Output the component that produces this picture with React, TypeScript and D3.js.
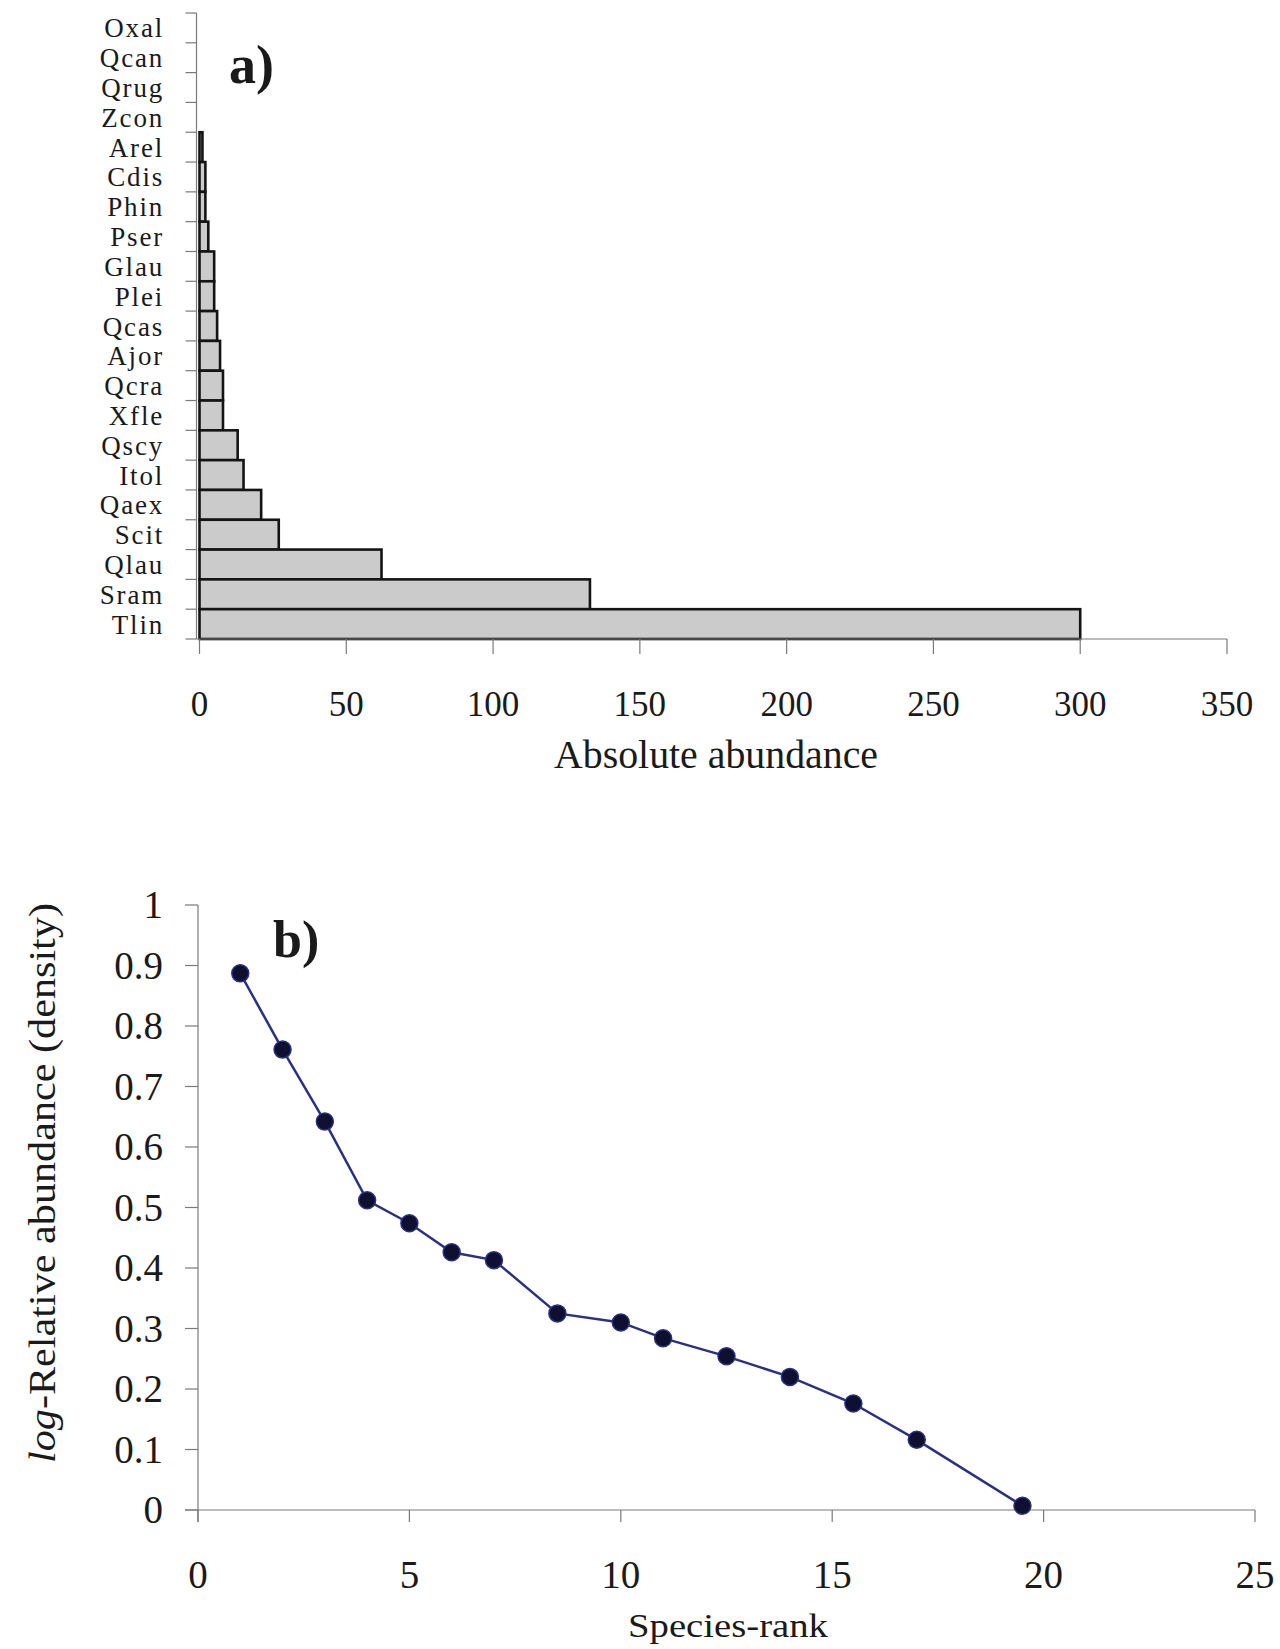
import React from "react";
import * as d3 from "d3";

// Panel a) species and their absolute abundance (top to bottom)
const species = [
  "Oxal", "Qcan", "Qrug", "Zcon", "Arel", "Cdis", "Phin", "Pser", "Glau", "Plei",
  "Qcas", "Ajor", "Qcra", "Xfle", "Qscy", "Itol", "Qaex", "Scit", "Qlau", "Sram", "Tlin",
];
const abundance = [0, 0, 0, 0, 1, 2, 2, 3, 5, 5, 6, 7, 8, 8, 13, 15, 21, 27, 62, 133, 300];
const abundanceTicks = [0, 50, 100, 150, 200, 250, 300, 350];

// Panel b) rank / abundance curve
const ranks = [1, 2, 3, 4, 5, 6, 7, 8.5, 10, 11, 12.5, 14, 15.5, 17, 19.5];
const logRelAbundance = [
  0.887, 0.761, 0.642, 0.512, 0.474, 0.426, 0.413, 0.325, 0.31, 0.284, 0.254, 0.22, 0.176, 0.116, 0.007,
];
const rankTicks = [0, 5, 10, 15, 20, 25];
const densityTicks = [0, 0.1, 0.2, 0.3, 0.4, 0.5, 0.6, 0.7, 0.8, 0.9, 1];

const FONT = "'Liberation Serif', 'Times New Roman', serif";
const AXIS = "#7a7a7a";
const INK = "#1a1a1a";

function BarPanel() {
  const x = d3.scaleLinear().domain([0, 350]).range([199.5, 1227]);
  const y = d3.scaleBand<string>().domain(species).range([13, 639]).padding(0);
  const base = 639;
  return (
    <g>
      {/* bars */}
      {species.map((s, i) =>
        abundance[i] > 0 ? (
          <rect
            key={s}
            x={x(0)}
            y={y(s)!}
            width={x(abundance[i]) - x(0)}
            height={y.bandwidth()}
            fill="#cbcbcb"
            stroke="#141414"
            strokeWidth={2.6}
          />
        ) : null
      )}
      {/* y axis */}
      <line x1={x(0) - 3} x2={x(0) - 3} y1={13} y2={base} stroke={AXIS} strokeWidth={1.2} />
      {[...species.map((s) => y(s)!), base].map((v, i) => (
        <line key={i} x1={x(0) - 14} x2={x(0) - 3} y1={v} y2={v} stroke={AXIS} strokeWidth={1.2} />
      ))}
      {species.map((s) => (
        <text
          key={s}
          x={164}
          y={y(s)! + y.bandwidth() / 2 + 9.5}
          textAnchor="end"
          fontFamily={FONT}
          fontSize={27}
          letterSpacing={1.8}
          fill={INK}
        >
          {s}
        </text>
      ))}
      {/* x axis */}
      <line x1={x(0) - 3} x2={x(350)} y1={base} y2={base} stroke={AXIS} strokeWidth={1.2} />
      {abundanceTicks.map((t) => (
        <g key={t}>
          <line x1={x(t)} x2={x(t)} y1={base} y2={base + 15} stroke={AXIS} strokeWidth={1.2} />
          <text x={x(t)} y={716} textAnchor="middle" fontFamily={FONT} fontSize={35} fill={INK}>
            {t}
          </text>
        </g>
      ))}
      <text
        x={716}
        y={768}
        textAnchor="middle"
        fontFamily={FONT}
        fontSize={40}
        textLength={324}
        lengthAdjust="spacingAndGlyphs"
        fill={INK}
      >
        Absolute abundance
      </text>
      <text x={229} y={83} fontFamily={FONT} fontSize={54} fontWeight="bold" fill={INK}>
        a)
      </text>
    </g>
  );
}

function RankPanel() {
  const x = d3.scaleLinear().domain([0, 25]).range([198, 1255]);
  const y = d3.scaleLinear().domain([0, 1]).range([1510, 905]);
  const line = d3
    .line<number>()
    .x((_, i) => x(ranks[i]))
    .y((d) => y(d));
  return (
    <g>
      {/* y axis */}
      <line x1={x(0)} x2={x(0)} y1={y(1)} y2={y(0) + 12} stroke={AXIS} strokeWidth={1.2} />
      {densityTicks.map((t) => (
        <g key={t}>
          <line x1={x(0) - 13} x2={x(0)} y1={y(t)} y2={y(t)} stroke={AXIS} strokeWidth={1.2} />
          <text x={163} y={y(t) + 13} textAnchor="end" fontFamily={FONT} fontSize={39} fill={INK}>
            {t}
          </text>
        </g>
      ))}
      {/* x axis */}
      <line x1={x(0) - 13} x2={x(25)} y1={y(0)} y2={y(0)} stroke={AXIS} strokeWidth={1.2} />
      {rankTicks.map((t) => (
        <g key={t}>
          <line x1={x(t)} x2={x(t)} y1={y(0)} y2={y(0) + 12} stroke={AXIS} strokeWidth={1.2} />
          <text x={x(t)} y={1588} textAnchor="middle" fontFamily={FONT} fontSize={39} fill={INK}>
            {t}
          </text>
        </g>
      ))}
      {/* curve */}
      <path d={line(logRelAbundance)!} fill="none" stroke="#2b3080" strokeWidth={2.5} />
      {logRelAbundance.map((v, i) => (
        <circle key={i} cx={x(ranks[i])} cy={y(v)} r={8.5} fill="#0f1030" stroke="#2b3080" strokeWidth={1.5} />
      ))}
      <text
        x={728}
        y={1637}
        textAnchor="middle"
        fontFamily={FONT}
        fontSize={34}
        textLength={200}
        lengthAdjust="spacingAndGlyphs"
        fill={INK}
      >
        Species-rank
      </text>
      <text
        transform="translate(55,1183) rotate(-90)"
        textAnchor="middle"
        fontFamily={FONT}
        fontSize={38}
        textLength={560}
        lengthAdjust="spacingAndGlyphs"
        fill={INK}
      >
        <tspan fontStyle="italic">log</tspan>-Relative abundance (density)
      </text>
      <text x={273} y={957} fontFamily={FONT} fontSize={52} fontWeight="bold" fill={INK}>
        b)
      </text>
    </g>
  );
}

export default function App() {
  return (
    <svg
      width={1280}
      height={1649}
      viewBox="0 0 1280 1649"
      style={{ position: "absolute", left: 0, top: 0, background: "#fff" }}
    >
      <rect width={1280} height={1649} fill="#fff" />
      <BarPanel />
      <RankPanel />
    </svg>
  );
}
